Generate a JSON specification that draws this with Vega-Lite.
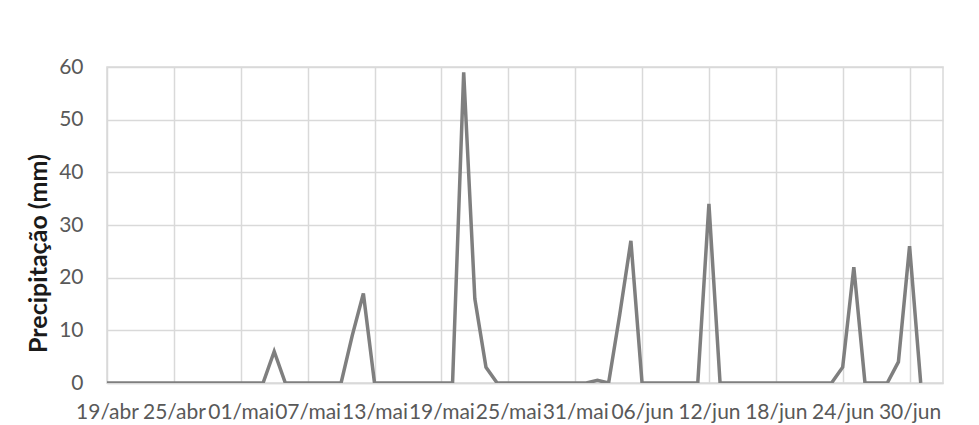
{
  "$schema": "https://vega.github.io/schema/vega-lite/v6.json",
  "autosize": "none",
  "width": 836,
  "height": 316,
  "padding": {"left": 107, "top": 67, "right": 36, "bottom": 42},
  "background": "white",
  "config": {
    "font": "Lato",
    "view": {"stroke": "#d9d9d9", "strokeWidth": 1.5},
    "axis": {
      "labelFont": "Lato",
      "labelFontSize": 21,
      "labelColor": "#595959",
      "gridColor": "#d9d9d9",
      "gridWidth": 1.5,
      "ticks": false,
      "domainColor": "#d9d9d9",
      "domainWidth": 1.5
    }
  },
  "data": {
    "values": [
      {"data": "2019-04-19", "mm": 0}, {"data": "2019-04-20", "mm": 0}, {"data": "2019-04-21", "mm": 0},
      {"data": "2019-04-22", "mm": 0}, {"data": "2019-04-23", "mm": 0}, {"data": "2019-04-24", "mm": 0},
      {"data": "2019-04-25", "mm": 0}, {"data": "2019-04-26", "mm": 0}, {"data": "2019-04-27", "mm": 0},
      {"data": "2019-04-28", "mm": 0}, {"data": "2019-04-29", "mm": 0}, {"data": "2019-04-30", "mm": 0},
      {"data": "2019-05-01", "mm": 0}, {"data": "2019-05-02", "mm": 0}, {"data": "2019-05-03", "mm": 0},
      {"data": "2019-05-04", "mm": 6}, {"data": "2019-05-05", "mm": 0}, {"data": "2019-05-06", "mm": 0},
      {"data": "2019-05-07", "mm": 0}, {"data": "2019-05-08", "mm": 0}, {"data": "2019-05-09", "mm": 0},
      {"data": "2019-05-10", "mm": 0}, {"data": "2019-05-11", "mm": 9}, {"data": "2019-05-12", "mm": 17},
      {"data": "2019-05-13", "mm": 0}, {"data": "2019-05-14", "mm": 0}, {"data": "2019-05-15", "mm": 0},
      {"data": "2019-05-16", "mm": 0}, {"data": "2019-05-17", "mm": 0}, {"data": "2019-05-18", "mm": 0},
      {"data": "2019-05-19", "mm": 0}, {"data": "2019-05-20", "mm": 0}, {"data": "2019-05-21", "mm": 59},
      {"data": "2019-05-22", "mm": 16}, {"data": "2019-05-23", "mm": 3}, {"data": "2019-05-24", "mm": 0},
      {"data": "2019-05-25", "mm": 0}, {"data": "2019-05-26", "mm": 0}, {"data": "2019-05-27", "mm": 0},
      {"data": "2019-05-28", "mm": 0}, {"data": "2019-05-29", "mm": 0}, {"data": "2019-05-30", "mm": 0},
      {"data": "2019-05-31", "mm": 0}, {"data": "2019-06-01", "mm": 0}, {"data": "2019-06-02", "mm": 0.5},
      {"data": "2019-06-03", "mm": 0}, {"data": "2019-06-04", "mm": 13}, {"data": "2019-06-05", "mm": 27},
      {"data": "2019-06-06", "mm": 0}, {"data": "2019-06-07", "mm": 0}, {"data": "2019-06-08", "mm": 0},
      {"data": "2019-06-09", "mm": 0}, {"data": "2019-06-10", "mm": 0}, {"data": "2019-06-11", "mm": 0},
      {"data": "2019-06-12", "mm": 34}, {"data": "2019-06-13", "mm": 0}, {"data": "2019-06-14", "mm": 0},
      {"data": "2019-06-15", "mm": 0}, {"data": "2019-06-16", "mm": 0}, {"data": "2019-06-17", "mm": 0},
      {"data": "2019-06-18", "mm": 0}, {"data": "2019-06-19", "mm": 0}, {"data": "2019-06-20", "mm": 0},
      {"data": "2019-06-21", "mm": 0}, {"data": "2019-06-22", "mm": 0}, {"data": "2019-06-23", "mm": 0},
      {"data": "2019-06-24", "mm": 3}, {"data": "2019-06-25", "mm": 22}, {"data": "2019-06-26", "mm": 0},
      {"data": "2019-06-27", "mm": 0}, {"data": "2019-06-28", "mm": 0}, {"data": "2019-06-29", "mm": 4},
      {"data": "2019-06-30", "mm": 26}, {"data": "2019-07-01", "mm": 0}
    ]
  },
  "mark": {"type": "line", "color": "#7f7f7f", "strokeWidth": 3.5, "strokeJoin": "miter", "clip": true},
  "encoding": {
    "x": {
      "field": "data",
      "type": "temporal",
      "scale": {
        "type": "utc",
        "domain": [
          {"year": 2019, "month": 4, "date": 19, "utc": true},
          {"year": 2019, "month": 7, "date": 3, "utc": true}
        ]
      },
      "axis": {
        "title": null,
        "values": [
          {"year": 2019, "month": 4, "date": 19, "utc": true},
          {"year": 2019, "month": 4, "date": 25, "utc": true},
          {"year": 2019, "month": 5, "date": 1, "utc": true},
          {"year": 2019, "month": 5, "date": 7, "utc": true},
          {"year": 2019, "month": 5, "date": 13, "utc": true},
          {"year": 2019, "month": 5, "date": 19, "utc": true},
          {"year": 2019, "month": 5, "date": 25, "utc": true},
          {"year": 2019, "month": 5, "date": 31, "utc": true},
          {"year": 2019, "month": 6, "date": 6, "utc": true},
          {"year": 2019, "month": 6, "date": 12, "utc": true},
          {"year": 2019, "month": 6, "date": 18, "utc": true},
          {"year": 2019, "month": 6, "date": 24, "utc": true},
          {"year": 2019, "month": 6, "date": 30, "utc": true}
        ],
        "labelExpr": "utcFormat(datum.value, '%d') + '/' + ['jan','fev','mar','abr','mai','jun','jul','ago','set','out','nov','dez'][utcmonth(datum.value)]",
        "labelOverlap": false,
        "labelBound": false,
        "labelFlush": false,
        "labelPadding": 18,
        "grid": true
      }
    },
    "y": {
      "field": "mm",
      "type": "quantitative",
      "scale": {"domain": [0, 60], "nice": false},
      "axis": {
        "title": "Precipitação (mm)",
        "titleFont": "Lato",
        "titleFontSize": 25,
        "titleFontWeight": "bold",
        "titleColor": "#1a1a1a",
        "titleAngle": -90,
        "titleAlign": "center",
        "titleBaseline": "middle",
        "titleX": -69,
        "titleY": 186,
        "values": [0, 10, 20, 30, 40, 50, 60],
        "labelPadding": 24,
        "domain": false,
        "grid": true
      }
    }
  }
}
